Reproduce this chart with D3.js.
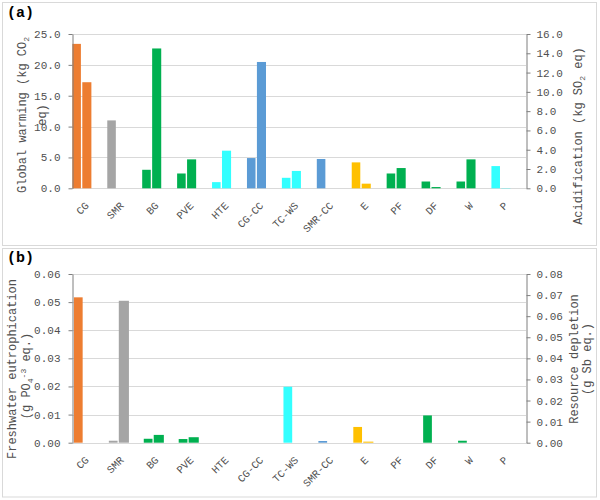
<!DOCTYPE html>
<html>
<head>
<meta charset="utf-8">
<script src="https://cdn.jsdelivr.net/npm/d3@7"></script>
<style>
  html, body { margin: 0; padding: 0; background: #fff; }
  svg { display: block; }
  text { font-family: "Liberation Mono", "Courier New", monospace; fill: #505050; }
</style>
</head>
<body>
<svg id="chart" width="600" height="500"></svg>
<script>
// ---- Data ----
const categories = ["CG", "SMR", "BG", "PVE", "HTE", "CG-CC", "TC-WS", "SMR-CC", "E", "PF", "DF", "W", "P"];
const barColors = ["#ED7D31", "#A5A5A5", "#00B050", "#00B050", "#33FFFF", "#5B9BD5", "#33FFFF", "#5B9BD5", "#FFC000", "#00B050", "#00B050", "#00B050", "#33FFFF"];

// Panel (a)
const globalWarming = [23.4, 11.0, 3.0, 2.4, 1.0, 4.9, 1.7, 4.75, 4.2, 2.4, 1.1, 1.1, 3.6];      // kg CO2 eq (left axis)
const acidification = [11.0, 0, 14.5, 3.0, 3.9, 13.1, 1.8, 0, 0.48, 2.1, 0.13, 3.0, 0.03];        // kg SO2 eq (right axis)
const gwTicks = [0, 5, 10, 15, 20, 25];
const acTicks = [0, 2, 4, 6, 8, 10, 12, 14, 16];

// Panel (b)
const eutrophication = [0.0517, 0.0007, 0.0014, 0.0013, 0, 0, 0.0199, 0.0006, 0.0056, 0, 0.0097, 0.0007, 0];  // g PO4 eq (left)
const resourceDepletion = [0, 0.0673, 0.0037, 0.0026, 0, 0, 0, 0, 0.0005, 0, 0, 0, 0];                        // g Sb eq (right)
const euTicks = [0, 0.01, 0.02, 0.03, 0.04, 0.05, 0.06];
const rdTicks = [0, 0.01, 0.02, 0.03, 0.04, 0.05, 0.06, 0.07, 0.08];

// ---- Drawing ----
const svg = d3.select("#chart");
const gridColor = "#d9d9d9";
const axisColor = "#7f7f7f";

function frame(y0, y1) {
  svg.append("rect").attr("x", 2.5).attr("y", y0).attr("width", 594).attr("height", y1 - y0)
    .attr("fill", "#fff").attr("stroke", gridColor).attr("stroke-width", 1);
}

function panel(cfg) {
  const x = d3.scaleBand().domain(categories).range([cfg.left, cfg.right]).paddingInner(0).paddingOuter(0);
  const yL = d3.scaleLinear().domain(cfg.leftDomain).range([cfg.bottom, cfg.top]);
  const yR = d3.scaleLinear().domain(cfg.rightDomain).range([cfg.bottom, cfg.top]);
  const g = svg.append("g");

  // gridlines
  g.append("g").selectAll("line").data(cfg.leftTicks).join("line")
    .attr("x1", cfg.left).attr("x2", cfg.right)
    .attr("y1", d => Math.round(yL(d)) + 0.5).attr("y2", d => Math.round(yL(d)) + 0.5)
    .attr("stroke", gridColor).attr("stroke-width", 1);

  const bw = x.bandwidth();
  // left-series bars
  g.append("g").selectAll("rect").data(categories).join("rect")
    .attr("x", c => x(c) + cfg.offL * bw)
    .attr("width", cfg.wL * bw)
    .attr("y", (c, i) => yL(cfg.leftVals[i]))
    .attr("height", (c, i) => yL(0) - yL(cfg.leftVals[i]))
    .attr("fill", (c, i) => barColors[i]);
  // right-series bars
  g.append("g").selectAll("rect").data(categories).join("rect")
    .attr("x", c => x(c) + cfg.offR * bw)
    .attr("width", cfg.wR * bw)
    .attr("y", (c, i) => yR(cfg.rightVals[i]))
    .attr("height", (c, i) => yR(0) - yR(cfg.rightVals[i]))
    .attr("fill", (c, i) => barColors[i]);

  // left axis
  const la = g.append("g").attr("transform", `translate(${cfg.left + 0.5},0)`)
    .call(d3.axisLeft(yL).tickValues(cfg.leftTicks).tickFormat(d3.format(cfg.fmt)).tickSize(4).tickPadding(8).tickSizeOuter(0));
  la.select(".domain").attr("stroke", axisColor);
  la.selectAll(".tick line").attr("stroke", axisColor);
  la.selectAll("text").style("font-size", "11px").attr("fill", "#505050").style("font-family", "Liberation Mono");

  // right axis
  const ra = g.append("g").attr("transform", `translate(${cfg.right + 0.5},0)`)
    .call(d3.axisRight(yR).tickValues(cfg.rightTicks).tickFormat(d3.format(cfg.fmt)).tickSize(4).tickPadding(6).tickSizeOuter(0));
  ra.select(".domain").attr("stroke", axisColor);
  ra.selectAll(".tick line").attr("stroke", axisColor);
  ra.selectAll("text").style("font-size", "11px").attr("fill", "#505050").style("font-family", "Liberation Mono");

  // category labels (rotated -45 degrees)
  g.append("g").selectAll("text").data(categories).join("text")
    .attr("transform", c => `translate(${x(c) + bw / 2},${cfg.bottom + 18}) rotate(-45)`)
    .attr("text-anchor", "end")
    .style("font-size", "10.5px")
    .text(c => c);
}

frame(2.5, 245.5);
frame(248.5, 497);

panel({
  left: 72, right: 526, top: 34, bottom: 188.3,
  leftDomain: [0, 25], rightDomain: [0, 16],
  leftTicks: gwTicks, rightTicks: acTicks, fmt: ".1f",
  leftVals: globalWarming, rightVals: acidification,
  offL: 0.01, wL: 0.245, offR: 0.295, wR: 0.26
});

panel({
  left: 72, right: 526, top: 274, bottom: 442.7,
  leftDomain: [0, 0.06], rightDomain: [0, 0.08],
  leftTicks: euTicks, rightTicks: rdTicks, fmt: ".2f",
  leftVals: eutrophication, rightVals: resourceDepletion,
  offL: 0.055, wL: 0.25, offR: 0.34, wR: 0.29
});

// panel labels
svg.append("text").attr("x", 7).attr("y", 17).text("(a)")
  .style("font-size", "15px").style("font-weight", "bold").style("fill", "#000");
svg.append("text").attr("x", 7).attr("y", 262).text("(b)")
  .style("font-size", "15px").style("font-weight", "bold").style("fill", "#000");

// axis titles
function vtitle(cx, cy, parts) {
  const t = svg.append("text").attr("transform", `translate(${cx},${cy}) rotate(-90)`)
    .attr("text-anchor", "middle").attr("dy", "0.35em").style("font-size", "12px");
  parts.forEach(p => {
    const s = t.append("tspan").text(p.t);
    if (p.sub) s.attr("dy", "3").style("font-size", "8px");
    if (p.sup) s.attr("dy", "-7").style("font-size", "8px");
    if (p.back) s.attr("dy", p.back);
  });
  return t;
}
vtitle(22, 115, [{t: "Global warming (kg CO"}, {t: "2", sub: true}]);
vtitle(42, 115, [{t: "eq)"}]);
vtitle(578, 136, [{t: "Acidification (kg SO"}, {t: "2", sub: true}, {t: " eq)", back: "-3"}]);

vtitle(12, 369, [{t: "Freshwater eutrophication"}]);
vtitle(26, 376, [{t: "(g PO"}, {t: "4", sub: true}, {t: "-3", sup: true}, {t: " eq.)", back: "4"}]);
vtitle(574, 359, [{t: "Resource depletion"}]);
vtitle(587, 359, [{t: "(g Sb eq.)"}]);
</script>
</body>
</html>
